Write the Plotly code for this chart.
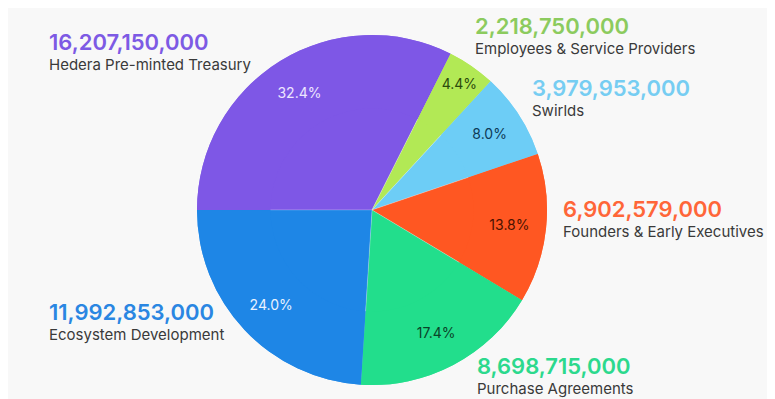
import plotly.graph_objects as go

labels = ["Hedera Pre-minted Treasury", "Employees & Service Providers", "Swirlds",
          "Founders & Early Executives", "Purchase Agreements", "Ecosystem Development"]
values = [16207150000, 2218750000, 3979953000, 6902579000, 8698715000, 11992853000]
colors = ["#7E57E6", "#B2E955", "#6DCDF6", "#FF5722", "#22DE8C", "#1E86E6"]
number_colors = ["#7D5AE4", "#8CCB5E", "#76CDF2", "#FF6638", "#2CD98D", "#2A86E2"]
text_colors = ["#EDE6FF", "#2C4A0C", "#0E3A57", "#4A1200", "#0A4428", "#E8F2FF"]

# figure drawn at 767x391 (page body adds an 8px margin)
W, H = 767, 391
# label anchor positions (paper coords: left edge, vertical centre of the number)
label_pos = [(0.0508, 0.9105), (0.6063, 0.9514), (0.6806, 0.7928),
             (0.7210, 0.4834), (0.6089, 0.0818), (0.0508, 0.2199)]

BG = "#F8F8F8"
cx, cy, R = 364, 189, 175  # pie centre (x from left, y from bottom) and radius in px
dom = dict(x=[(cx - R) / W, (cx + R) / W], y=[(cy - R) / H, (cy + R) / H])

fig = go.Figure()
# full pie (no text)
fig.add_trace(go.Pie(
    labels=labels, values=values, sort=False, direction="clockwise", rotation=270,
    marker=dict(colors=colors, line=dict(color="rgba(255,255,255,0.3)", width=0.6)),
    textinfo="none", domain=dom, showlegend=False, hoverinfo="label+value+percent",
))
# outer ring carrying the percentage text near the rim
fig.add_trace(go.Pie(
    labels=labels, values=values, sort=False, direction="clockwise", rotation=270, hole=0.58,
    marker=dict(colors=colors, line=dict(color="rgba(255,255,255,0.3)", width=0)),
    texttemplate="%{percent:.1%}", textposition="inside", insidetextorientation="horizontal",
    textfont=dict(family="Inter", size=14, color=text_colors),
    domain=dom, showlegend=False, hoverinfo="skip",
))

for lab, val, col, (x, y) in zip(labels, values, number_colors, label_pos):
    txt = (f"<span style='font-size:22px;font-weight:600;color:{col}'>{val:,}</span>"
           f"<br>{lab}")
    fig.add_annotation(x=x, y=y - 8.5 / H, xref="paper", yref="paper", xanchor="left", yanchor="middle",
                       align="left", text=txt, showarrow=False,
                       font=dict(family="Inter", size=15, color="#3A3A3A"))

fig.update_layout(width=W, height=H, margin=dict(l=0, r=0, t=0, b=0),
                  paper_bgcolor=BG, plot_bgcolor=BG)
fig.write_html("out.html")
